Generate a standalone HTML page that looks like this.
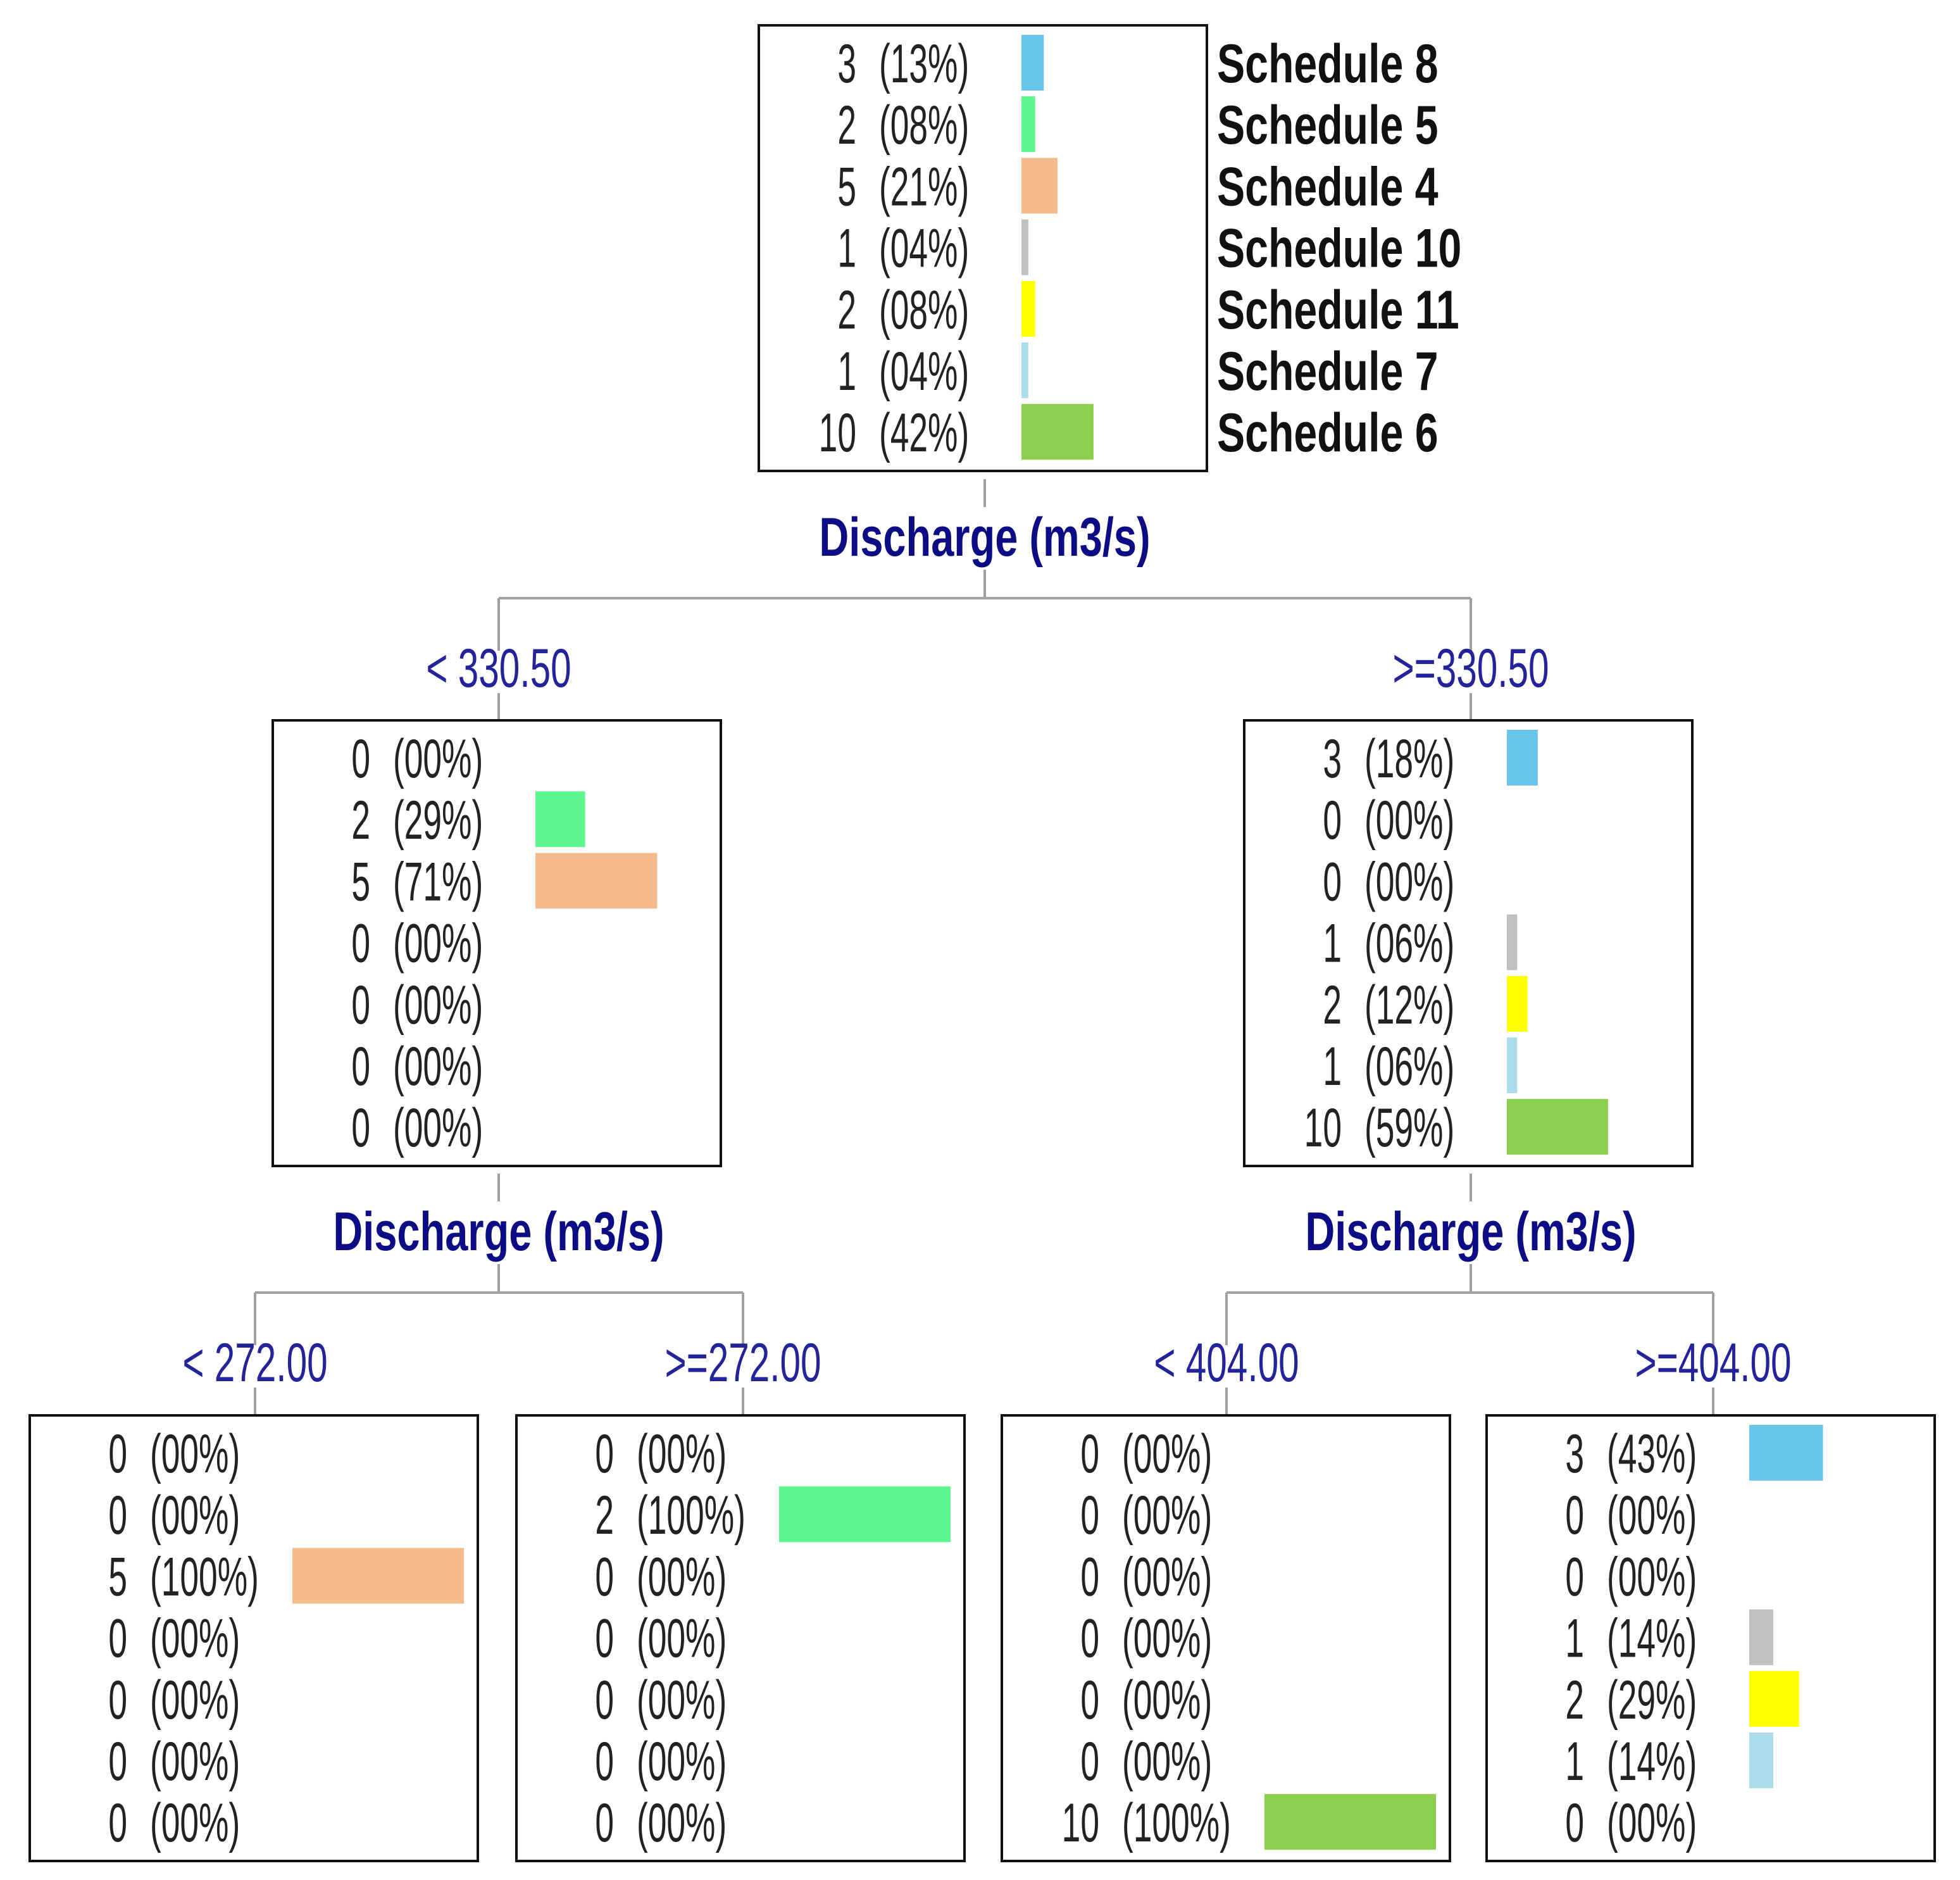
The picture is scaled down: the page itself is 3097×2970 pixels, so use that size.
<!DOCTYPE html>
<html><head><meta charset="utf-8"><style>html,body{margin:0;padding:0;background:#fff}svg{display:block}</style></head>
<body>
<svg id="chart" width="3097" height="2970" viewBox="0 0 3097 2970" xmlns="http://www.w3.org/2000/svg"></svg>
<script>
const classNames = ["Schedule 8","Schedule 5","Schedule 4","Schedule 10","Schedule 11","Schedule 7","Schedule 6"];
const classColors = ["#66c6ec","#5ef68f","#f6bb8c","#c0c0c0","#ffff00","#acdcea","#8ccf4e"];
const rootCounts = [3,2,5,1,2,1,10];
const rootPct = ["13","08","21","04","08","04","42"];
const leftCounts = [0,2,5,0,0,0,0];
const leftPct = ["00","29","71","00","00","00","00"];
const rightCounts = [3,0,0,1,2,1,10];
const rightPct = ["18","00","00","06","12","06","59"];
const llCounts = [0,0,5,0,0,0,0];
const llPct = ["00","00","100","00","00","00","00"];
const lrCounts = [0,2,0,0,0,0,0];
const lrPct = ["00","100","00","00","00","00","00"];
const rlCounts = [0,0,0,0,0,0,10];
const rlPct = ["00","00","00","00","00","00","100"];
const rrCounts = [3,0,0,1,2,1,0];
const rrPct = ["43","00","00","14","29","14","00"];
const splitVar = "Discharge (m3/s)";
const splitLabels = ["< 330.50",">=330.50","< 272.00",">=272.00","< 404.00",">=404.00"];

const NS="http://www.w3.org/2000/svg";
const svg=document.getElementById('chart');
function mk(tag,attrs){const e=document.createElementNS(NS,tag);for(const k in attrs)e.setAttribute(k,attrs[k]);svg.appendChild(e);return e;}
function txt(x,y,s,anchor,size,weight,fill,sx){
  const t=mk('text',{transform:`translate(${x},${y}) scale(${sx},1)`,'text-anchor':anchor,'font-size':size,'font-weight':weight,fill:fill,'font-family':'"Liberation Sans", sans-serif'});
  t.textContent=s;return t;
}
const BW=708, BH=704, ROWH=97.2, PCT100=271;
function xPct(p){return p/100*PCT100;}
function node(x,y,counts,pct,name){
  const r=mk('rect',{x:x,y:y,width:BW,height:BH,fill:'#fff',stroke:'#111','stroke-width':4});
  
  
  for(let i=0;i<counts.length;i++){
    const cy=y+59+i*ROWH;
    const t1=txt(x+154,cy+31,String(counts[i]),'end',86,'normal','#222',0.62);
    
    
    const t2=txt(x+190,cy+31,'('+pct[i]+'%)','start',86,'normal','#222',0.62);
    
    
    const p=parseFloat(pct[i]);
    if(counts[i]>0){
      const w=Math.max(8,xPct(p));
      const b=mk('rect',{x:x+415,y:cy-44,width:w,height:88,fill:classColors[i]});
      
      
    }
  }
}
function line(x1,y1,x2,y2){const l=mk('line',{x1,y1,x2,y2,stroke:'#a0a0a0','stroke-width':4});}
function split(cx,B,lx,rx,lab1,lab2,name){
  line(cx,B+12,cx,B+56);
  const d=txt(cx,B+133,splitVar,'middle',86,'bold','#0c0c84',0.755);
  
  
  line(cx,B+155,cx,B+200);
  line(lx,B+200,rx,B+200);
  line(lx,B+200,lx,B+283);line(rx,B+200,rx,B+283);
  const a=txt(lx,B+340,lab1,'middle',86,'normal','#23239a',0.68);
  
  
  const b=txt(rx,B+340,lab2,'middle',86,'normal','#23239a',0.68);
  
  
  line(lx,B+350,lx,B+393);line(rx,B+350,rx,B+393);
}
// root
node(1199,40,rootCounts,rootPct,'root-node');
for(let i=0;i<classNames.length;i++){
  const t=txt(1923,99+i*ROWH+31,classNames[i],'start',86,'bold','#111',0.77);
  
  
}
split(1556,745,788,2324,splitLabels[0],splitLabels[1],'root');
node(431,1138,leftCounts,leftPct,'left-node');
node(1966,1138,rightCounts,rightPct,'right-node');
split(788,1842,403,1174,splitLabels[2],splitLabels[3],'left');
split(2324,1842,1938,2707,splitLabels[4],splitLabels[5],'right');
node(47,2236,llCounts,llPct,'left-left-node');
node(816,2236,lrCounts,lrPct,'left-right-node');
node(1583,2236,rlCounts,rlPct,'right-left-node');
node(2349,2236,rrCounts,rrPct,'right-right-node');
</script>
</body></html>
